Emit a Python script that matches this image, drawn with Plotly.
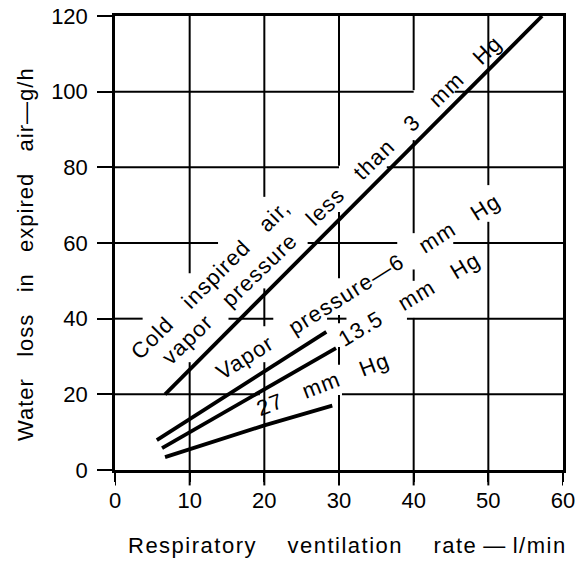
import plotly.graph_objects as go

# ---- data ----
cold_x = [6.7, 57.2]
cold_y = [20, 120]
vp6_x = [5.6, 28.3]
vp6_y = [7.9, 36.5]
vp135_x = [6.3, 29.6]
vp135_y = [5.8, 32.2]
vp27_x = [6.7, 20, 29.1]
vp27_y = [3.4, 11.8, 17.0]

x_ticks = [0, 10, 20, 30, 40, 50, 60]
y_ticks = [0, 20, 40, 60, 80, 100, 120]

# broken grid lines of the original drawing: (value, [(from, to), ...])
v_grid = [
    (10, [(52, 120), (0, 28.5)]),
    (20, [(72.2, 120), (38, 48), (0, 28.5)]),
    (30, [(80.4, 120), (50.7, 68.2), (38.8, 41), (27.8, 32.5), (0, 19.8)]),
    (40, [(100.4, 120), (62.6, 87.2), (50, 53), (0, 40.2)]),
    (50, [(75.3, 120), (0, 65.6)]),
]
h_grid = [
    (100, [(0, 40), (45.5, 60)]),
    (80, [(0, 30), (36.4, 60)]),
    (60, [(0, 13.8), (25.8, 37.8), (45.3, 60)]),
    (40, [(0, 3.7), (15.2, 21.2), (28.4, 31), (39.1, 60)]),
    (20, [(0, 19.4), (30.4, 60)]),
]

NB = "\u00a0"
lbl_cold1 = ["Cold", "inspired", "air,"]
lbl_cold2 = ["vapor", "pressure", "less", "than", "3", "mm", "Hg"]
lbl_6 = ["Vapor", "pressure\u20146", "mm", "Hg"]
lbl_135 = ["13.5", "mm", "Hg"]
lbl_27 = ["27", "mm", "Hg"]
x_title = ["Respiratory", "ventilation", "rate\u2009\u2014\u2009l/min"]
y_title = ["Water", "loss", "in", "expired", "air\u2014g/h"]

FONT = "Liberation Sans, Arial, sans-serif"

fig = go.Figure()

# grid segments
gx, gy = [], []
for xv, segs in v_grid:
    for a, b in segs:
        gx += [xv, xv, None]
        gy += [a, b, None]
for yv, segs in h_grid:
    for a, b in segs:
        gx += [a, b, None]
        gy += [yv, yv, None]
fig.add_trace(go.Scatter(x=gx, y=gy, mode="lines", line=dict(color="black", width=2),
                         hoverinfo="skip", showlegend=False))

for xs, ys in [(cold_x, cold_y), (vp6_x, vp6_y), (vp135_x, vp135_y), (vp27_x, vp27_y)]:
    fig.add_trace(go.Scatter(x=xs, y=ys, mode="lines", line=dict(color="black", width=3.8),
                             showlegend=False, cliponaxis=False))

# longer x tick marks (labels sit close to the tick ends in the original)
for xv in x_ticks:
    fig.add_shape(type="line", xref="x", yref="paper", x0=xv, x1=xv, y0=0, y1=-0.034,
                  line=dict(color="black", width=2))


def sp(words, n=3, ls=1.2):
    return '<span style="letter-spacing:%spx">%s</span>' % (ls, (NB * n).join(words))


ann_font = dict(family=FONT, size=22, color="black")
annotations = [
    dict(x=12.8, y=50.4, text=sp(lbl_cold1), textangle=-45),
    dict(x=29.0, y=71.2, text=sp(lbl_cold2), textangle=-44),
    dict(x=32.6, y=48.6, text=sp(lbl_6), textangle=-32),
    dict(x=39.4, y=45.0, text=sp(lbl_135), textangle=-31),
    dict(x=27.8, y=22.6, text=sp(lbl_27), textangle=-21),
]
for a in annotations:
    a.update(xref="x", yref="y", showarrow=False, font=ann_font,
             xanchor="center", yanchor="middle")
    fig.add_annotation(**a)

fig.add_annotation(xref="paper", yref="paper", x=0.5, y=0, xanchor="center", yanchor="middle",
                   xshift=8, yshift=-75, text=sp(x_title, 4, 1.5), showarrow=False,
                   font=dict(family=FONT, size=22, color="black"))
fig.add_annotation(xref="paper", yref="paper", x=0, y=0.5, xanchor="center", yanchor="middle",
                   xshift=-90, yshift=-11, text=sp(y_title, 3, 1), textangle=-90, showarrow=False,
                   font=dict(family=FONT, size=22, color="black"))

axis_common = dict(showgrid=False, zeroline=False, showline=True, linecolor="black",
                   linewidth=2.5, mirror=True, ticks="outside", tickwidth=2,
                   tickcolor="black", automargin=False, ticklabeloverflow="allow",
                   tickfont=dict(family=FONT, size=22, color="black"))
fig.update_xaxes(range=[0, 60], tickvals=x_ticks, ticklen=9, **axis_common)
fig.update_yaxes(range=[0, 120], tickvals=y_ticks, ticklen=15, ticklabelstandoff=5, **axis_common)

fig.update_layout(width=575, height=561, margin=dict(l=115, r=12, t=16, b=91),
                  plot_bgcolor="white", paper_bgcolor="white")

fig.write_html("out.html")
